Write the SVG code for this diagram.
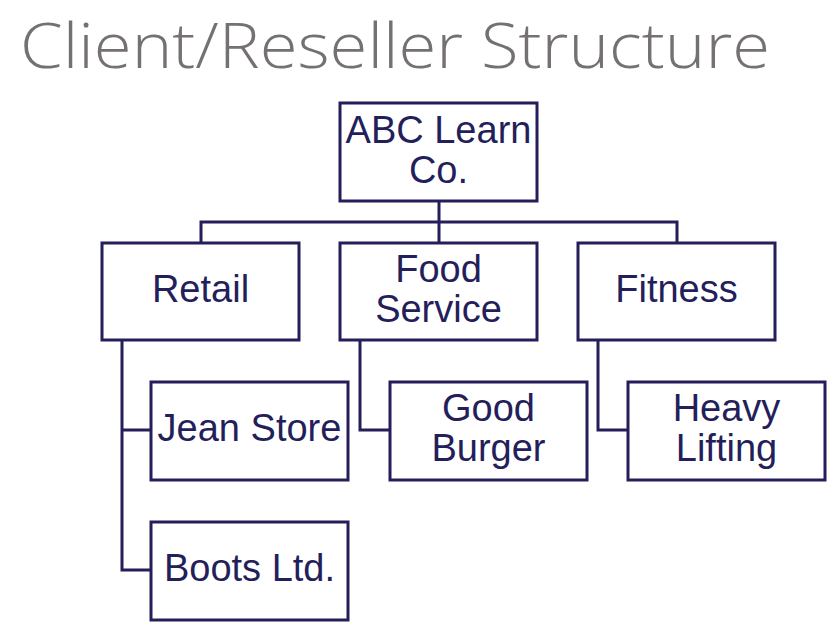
<svg xmlns="http://www.w3.org/2000/svg" width="840" height="631" viewBox="0 0 840 631">
<style>
.box{fill:#ffffff;stroke:#241f5b;stroke-width:3}
.lbl{font-family:"Liberation Sans",Arial,sans-serif;font-size:38px;fill:#241f5b;text-anchor:middle}
.con{fill:none;stroke:#241f5b;stroke-width:3}
.title{font-family:"Open Sans","Noto Sans",sans-serif;font-weight:300;font-size:62px;fill:#767171}
</style>
<rect width="840" height="631" fill="#ffffff"/>
<text class="title" x="20" y="68" textLength="750" lengthAdjust="spacingAndGlyphs">Client/Reseller Structure</text>
<g id="connectors">
<path class="con" d="M439,201V222M201,243V222H677V243M439,222V243"/>
<path class="con" d="M122,340V570H151M122,430H151"/>
<path class="con" d="M360,340V430H390"/>
<path class="con" d="M598,340V430H628"/>
</g>
<g id="abc"><rect class="box" x="340" y="103" width="197" height="98"/><text class="lbl" x="438.5" y="143">ABC Learn</text><text class="lbl" x="438.5" y="183">Co.</text></g>
<g id="retail"><rect class="box" x="102" y="243" width="197" height="97"/><text class="lbl" x="200.5" y="302">Retail</text></g>
<g id="food"><rect class="box" x="340" y="243" width="197" height="97"/><text class="lbl" x="438.5" y="282">Food</text><text class="lbl" x="438.5" y="322">Service</text></g>
<g id="fitness"><rect class="box" x="578" y="243" width="197" height="97"/><text class="lbl" x="676.5" y="302">Fitness</text></g>
<g id="jean"><rect class="box" x="151" y="382" width="197" height="98"/><text class="lbl" x="249.5" y="441">Jean Store</text></g>
<g id="boots"><rect class="box" x="151" y="522" width="197" height="98"/><text class="lbl" x="249.5" y="581">Boots Ltd.</text></g>
<g id="burger"><rect class="box" x="390" y="382" width="197" height="98"/><text class="lbl" x="488.5" y="421">Good</text><text class="lbl" x="488.5" y="461">Burger</text></g>
<g id="heavy"><rect class="box" x="628" y="382" width="197" height="98"/><text class="lbl" x="726.5" y="421">Heavy</text><text class="lbl" x="726.5" y="461">Lifting</text></g>
</svg>
